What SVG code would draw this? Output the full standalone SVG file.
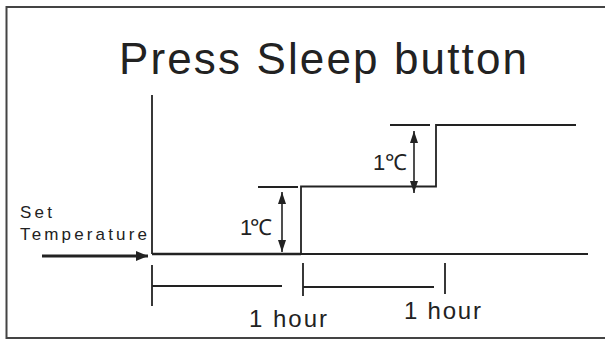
<svg xmlns="http://www.w3.org/2000/svg" width="605" height="340" viewBox="0 0 605 340">
  <style>
    .ln { stroke: #222; stroke-width: 1.8; fill: none; }
    .txt { font-family: "Liberation Sans", Arial, sans-serif; fill: #222; }
  </style>
  <defs>
    <marker id="ahv" viewBox="0 0 12 8" refX="12" refY="4" markerWidth="12" markerHeight="8" markerUnits="userSpaceOnUse" orient="auto-start-reverse">
      <path d="M0,0 L12,4 L0,8 z" fill="#222"/>
    </marker>
    <marker id="ahbig" viewBox="0 0 12 10" refX="12" refY="5" markerWidth="12" markerHeight="10" markerUnits="userSpaceOnUse" orient="auto">
      <path d="M0,0 L12,5 L0,10 z" fill="#222"/>
    </marker>
  </defs>
  <rect width="605" height="340" fill="#fff"/>
  <g id="frame">
    <path d="M610,7 L6.5,7 L6.5,338 L610,338" fill="none" stroke="#444" stroke-width="2"/>
  </g>
  <g id="title">
    <text class="txt" x="119" y="74" font-size="44" textLength="408" lengthAdjust="spacing">Press Sleep button</text>
  </g>
  <g id="set-temperature">
    <text class="txt" x="20" y="218" font-size="17" textLength="32" lengthAdjust="spacing">Set</text>
    <text class="txt" x="20" y="240" font-size="17" textLength="127" lengthAdjust="spacing">Temperature</text>
  </g>
  <g id="curve">
    <line class="ln" x1="152" y1="95" x2="152" y2="254"/>
    <line x1="152" y1="254" x2="301" y2="254" stroke="#222" stroke-width="2.6"/>
    <line class="ln" x1="301" y1="254" x2="588" y2="254"/>
    <polyline class="ln" points="301,254 301,186.5 436,186.5 436,125 576,125"/>
  </g>
  <g id="connectors">
    <line x1="42" y1="256" x2="148" y2="256" stroke="#222" stroke-width="3.2" marker-end="url(#ahbig)"/>
    <line class="ln" x1="258" y1="187" x2="298" y2="187"/>
    <line x1="282" y1="192" x2="282" y2="252" stroke="#222" stroke-width="1.6" marker-start="url(#ahv)" marker-end="url(#ahv)"/>
    <line class="ln" x1="390" y1="125" x2="430" y2="125"/>
    <line x1="414" y1="131" x2="414" y2="193" stroke="#222" stroke-width="1.6" marker-start="url(#ahv)" marker-end="url(#ahv)"/>
    <line class="ln" x1="152" y1="265" x2="152" y2="306"/>
    <line class="ln" x1="152" y1="286" x2="282" y2="286"/>
    <line class="ln" x1="303" y1="263" x2="303" y2="296"/>
    <line class="ln" x1="303" y1="287" x2="434" y2="287"/>
    <line class="ln" x1="445" y1="263" x2="445" y2="294"/>
  </g>
  <g id="labels">
    <text class="txt" x="240" y="235" font-size="22" textLength="32" lengthAdjust="spacing">1℃</text>
    <text class="txt" x="373" y="170" font-size="22" textLength="34" lengthAdjust="spacing">1℃</text>
    <text class="txt" x="249" y="327" font-size="24" textLength="78" lengthAdjust="spacing">1 hour</text>
    <text class="txt" x="404" y="319" font-size="24" textLength="77" lengthAdjust="spacing">1 hour</text>
  </g>
</svg>
